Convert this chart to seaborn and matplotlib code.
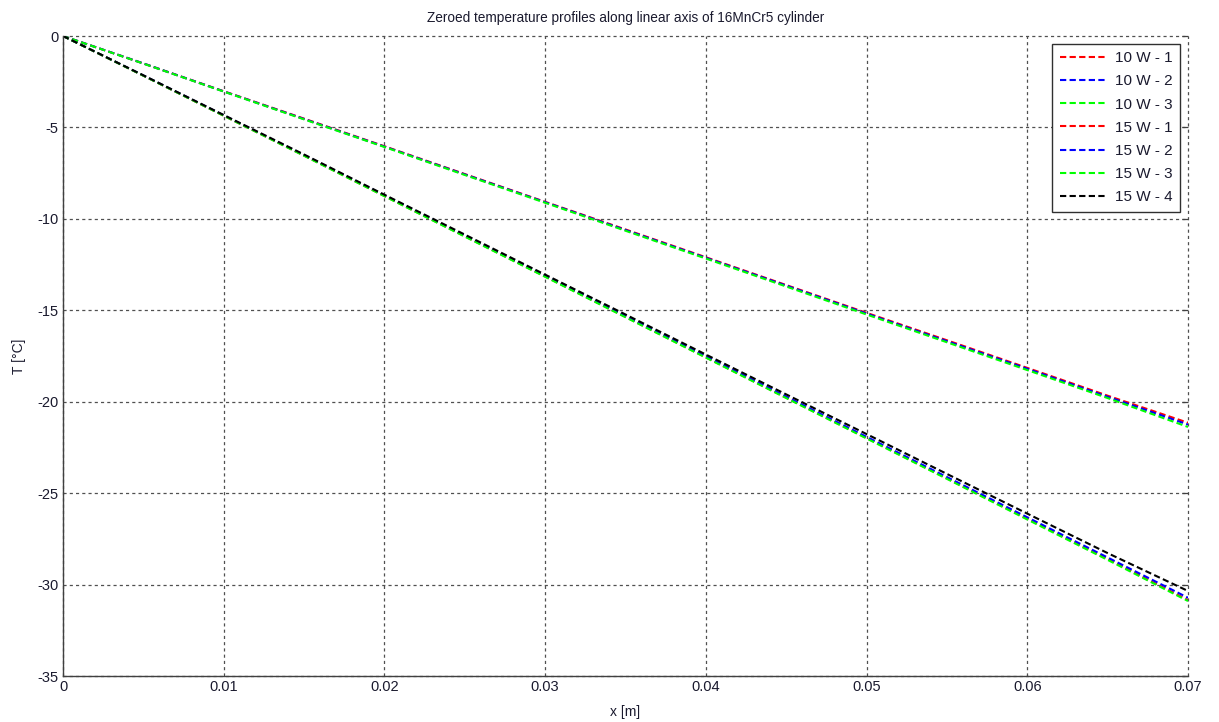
import numpy as np
import pandas as pd
import seaborn as sns
import matplotlib
matplotlib.use("Agg")
import matplotlib.pyplot as plt

# positions along the cylinder axis [m]
x_m = [0.0, 0.005, 0.01, 0.015, 0.02, 0.025, 0.03, 0.035, 0.04, 0.045, 0.05, 0.055, 0.06, 0.065, 0.07]

# zeroed temperatures [degC]
t_10w_1 = [0, -1.50, -3.02, -4.52, -6.03, -7.55, -9.07, -10.58, -12.10, -13.62, -15.14, -16.64, -18.15, -19.67, -21.15]
t_10w_2 = [0, -1.50, -3.03, -4.54, -6.05, -7.57, -9.09, -10.61, -12.13, -13.65, -15.18, -16.69, -18.20, -19.73, -21.25]
t_10w_3 = [0, -1.51, -3.04, -4.56, -6.07, -7.60, -9.12, -10.65, -12.17, -13.70, -15.23, -16.75, -18.27, -19.80, -21.38]
t_15w_1 = [0, -2.17, -4.36, -6.54, -8.75, -10.95, -13.15, -15.36, -17.57, -19.78, -21.98, -24.19, -26.40, -28.60, -30.85]
t_15w_2 = [0, -2.16, -4.34, -6.52, -8.72, -10.92, -13.12, -15.32, -17.52, -19.72, -21.92, -24.12, -26.32, -28.52, -30.72]
t_15w_3 = [0, -2.17, -4.36, -6.55, -8.76, -10.97, -13.17, -15.38, -17.59, -19.80, -22.01, -24.22, -26.44, -28.65, -30.90]
t_15w_4 = [0, -2.15, -4.32, -6.48, -8.68, -10.86, -13.05, -15.23, -17.42, -19.60, -21.77, -23.95, -26.12, -28.28, -30.35]

labels = ["10 W - 1", "10 W - 2", "10 W - 3", "15 W - 1", "15 W - 2", "15 W - 3", "15 W - 4"]
colors = ["#ff0000", "#0000ff", "#00ff00", "#ff0000", "#0000ff", "#00ff00", "#000000"]
series = [t_10w_1, t_10w_2, t_10w_3, t_15w_1, t_15w_2, t_15w_3, t_15w_4]

sns.set_style("white")
plt.rcParams["font.family"] = ["Liberation Sans", "DejaVu Sans"]
plt.rcParams["axes.unicode_minus"] = False

fig = plt.figure(figsize=(12.19, 7.22), dpi=100)
ax = fig.add_axes([63 / 1219, 46 / 722, 1125 / 1219, 640 / 722])

for lab, col, vals in zip(labels, colors, series):
    df = pd.DataFrame({"x": x_m, "T": vals})
    sns.lineplot(data=df, x="x", y="T", color=col, linestyle=(0, (3, 1.6)),
                 linewidth=1.5, label=lab, ax=ax)

ax.set_xlim(0, 0.07)
ax.set_ylim(-35, 0)
ax.set_xticks(np.arange(0, 0.0701, 0.01))
ax.set_xticklabels(["0", "0.01", "0.02", "0.03", "0.04", "0.05", "0.06", "0.07"])
ax.set_yticks(np.arange(-35, 0.1, 5))
ax.grid(True, color="#505050", linestyle=(0, (2.5, 2.5)), linewidth=0.9)
# let the edge grid lines (x=0.07, y=0) show fully, they stand in for the box
for gl in ax.get_xgridlines() + ax.get_ygridlines():
    gl.set_clip_on(False)

# matlab style: left/bottom axis lines only, top/right come from the grid
ax.spines["top"].set_visible(False)
ax.spines["right"].set_visible(False)
for s in ["left", "bottom"]:
    ax.spines[s].set_color("#404040")
    ax.spines[s].set_linewidth(1.0)
    ax.spines[s].set_zorder(3)
ax.tick_params(direction="in", length=4, width=0.9, colors="#404040", labelcolor="#1a1a2e",
               labelsize=10.5, right=True, pad=3)
ax.set_xlabel("x [m]", fontsize=10, labelpad=8, color="#1a1a2e")
ax.set_ylabel("T [°C]", fontsize=10, labelpad=8, color="#1a1a2e")
ax.set_title("Zeroed temperature profiles along linear axis of 16MnCr5 cylinder",
             fontsize=9.8, pad=10, color="#1a1a2e")

leg = ax.legend(loc="upper right", frameon=True, fancybox=False, fontsize=11,
                handlelength=3.0, handletextpad=0.6, borderaxespad=0.5,
                borderpad=0.5, labelspacing=0.6)
leg.get_frame().set_edgecolor("#303030")
leg.get_frame().set_linewidth(1.0)
leg.get_frame().set_alpha(1)
for t in leg.get_texts():
    t.set_color("#1a1a2e")

fig.savefig("out.png", dpi=100)
